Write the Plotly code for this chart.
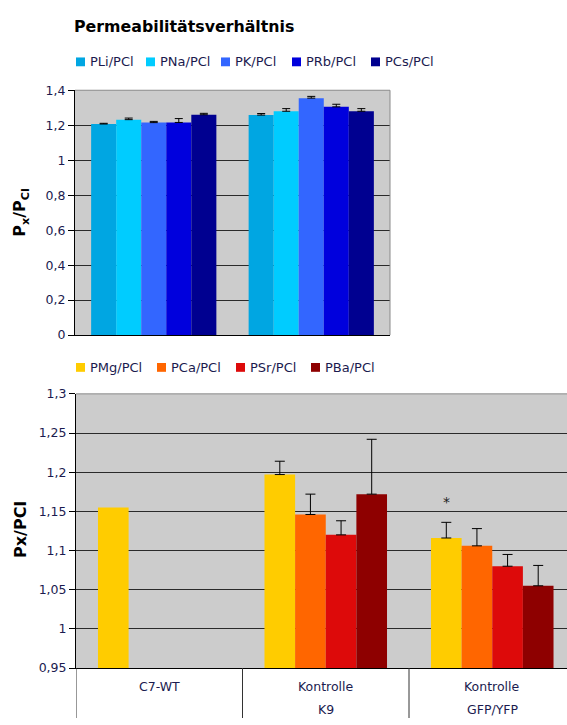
import numpy as np
import plotly.graph_objects as go

# ---------------- data ----------------
top_groups = ["Gruppe 1", "Gruppe 2"]
top_series = ["PLi/PCl", "PNa/PCl", "PK/PCl", "PRb/PCl", "PCs/PCl"]
top_values = [
    [1.207, 1.258],
    [1.232, 1.280],
    [1.215, 1.355],
    [1.216, 1.305],
    [1.260, 1.280],
]
top_errors = [
    [0.004, 0.009],
    [0.009, 0.015],
    [0.007, 0.010],
    [0.022, 0.015],
    [0.008, 0.015],
]
top_colors = ["#00A6E2", "#00CCFF", "#3366FF", "#0000DD", "#000090"]
top_tickvals = [0, 0.2, 0.4, 0.6, 0.8, 1.0, 1.2, 1.4]
top_ticktext = ["0", "0,2", "0,4", "0,6", "0,8", "1", "1,2", "1,4"]

bottom_categories = ["C7-WT", "Kontrolle\nK9", "Kontrolle\nGFP/YFP"]
bottom_series = ["PMg/PCl", "PCa/PCl", "PSr/PCl", "PBa/PCl"]
bottom_values = [
    [1.155, 1.197, 1.116],
    [None, 1.146, 1.106],
    [None, 1.120, 1.080],
    [None, 1.172, 1.055],
]
bottom_errors = [
    [None, 0.017, 0.020],
    [None, 0.026, 0.022],
    [None, 0.018, 0.015],
    [None, 0.070, 0.026],
]
bottom_colors = ["#FFCC00", "#FF6600", "#DD0A0A", "#8E0000"]
bottom_tickvals = [0.95, 1.0, 1.05, 1.1, 1.15, 1.2, 1.25, 1.3]
bottom_ticktext = ["0,95", "1", "1,05", "1,1", "1,15", "1,2", "1,25", "1,3"]

significance = {"category": 2, "series": 0, "y": 1.162, "text": "*"}

title_text = "Permeabilitätsverhältnis"
top_ytitle = "P<sub>x</sub>/P<sub>Cl</sub>"
bottom_ytitle = "Px/PCl"

# ---------------- layout helpers ----------------
W, H = 567, 725
def X(px):
    return px / W
def Y(py):
    return 1 - py / H

TXT = "#1b1b4f"
FONT = "DejaVu Sans"
top_w = 0.159
bot_w = 0.184


def err_arrays(errs):
    plus = np.array([np.nan if e is None else e for e in errs], dtype=float)
    minus = np.where(np.isnan(plus), np.nan, 0.0)
    return plus, minus


fig = go.Figure()

n = len(top_series)
for i, (name, vals, errs, col) in enumerate(zip(top_series, top_values, top_errors, top_colors)):
    plus, minus = err_arrays(errs)
    fig.add_trace(go.Bar(
        x=top_groups, y=vals, name=name, xaxis="x", yaxis="y",
        width=top_w, offset=-n * top_w / 2 + i * top_w,
        marker=dict(color=col, line=dict(width=0)),
        error_y=dict(type="data", array=plus, arrayminus=minus, symmetric=False,
                     color="black", thickness=1, width=4),
        showlegend=False,
    ))

m = len(bottom_series)
for i, (name, vals, errs, col) in enumerate(zip(bottom_series, bottom_values, bottom_errors, bottom_colors)):
    plus, minus = err_arrays(errs)
    fig.add_trace(go.Bar(
        x=bottom_categories, y=vals, name=name, xaxis="x2", yaxis="y2",
        width=bot_w, offset=-m * bot_w / 2 + i * bot_w,
        marker=dict(color=col, line=dict(width=0)),
        error_y=dict(type="data", array=plus, arrayminus=minus, symmetric=False,
                     color="black", thickness=1, width=5),
        showlegend=False,
    ))

shapes = []
annotations = []

# borders (gray top/right)
shapes.append(dict(type="line", xref="x domain", yref="y domain", x0=0, x1=1, y0=1, y1=1,
                   line=dict(color="#8a8a8a", width=1), layer="above"))
shapes.append(dict(type="line", xref="x domain", yref="y domain", x0=1, x1=1, y0=0, y1=1,
                   line=dict(color="#8a8a8a", width=1), layer="above"))
shapes.append(dict(type="line", xref="x2 domain", yref="y2 domain", x0=0, x1=1, y0=1, y1=1,
                   line=dict(color="#8a8a8a", width=1), layer="above"))

# category table lines below bottom chart
bot_domain_y0 = Y(674)
for xv in [-0.5, 0.5, 1.5]:
    shapes.append(dict(type="line", xref="x2", yref="paper", x0=xv, x1=xv, y0=0, y1=bot_domain_y0,
                       line=dict(color="#333333", width=1)))

# category labels
for k, cat in enumerate(bottom_categories):
    lines = cat.split("\n")
    for j, line in enumerate(lines):
        annotations.append(dict(x=k, y=Y(693 + 23 * j), xref="x2", yref="paper", text=line,
                                showarrow=False, xanchor="center", yanchor="middle",
                                font=dict(family=FONT, size=12.5, color=TXT)))

# manual legends
def legend(series, colors, xs, yc):
    for name, col, x0 in zip(series, colors, xs):
        shapes.append(dict(type="rect", xref="paper", yref="paper",
                           x0=X(x0), x1=X(x0 + 9), y0=Y(yc + 4.5), y1=Y(yc - 4.5),
                           fillcolor=col, line=dict(width=0)))
        annotations.append(dict(x=X(x0 + 12), y=Y(yc), xref="paper", yref="paper", text=name,
                                showarrow=False, xanchor="left", yanchor="middle",
                                font=dict(family=FONT, size=13, color=TXT)))

legend(top_series, top_colors, [76, 146, 221, 292, 371], 55)
legend(bottom_series, bottom_colors, [76, 157, 236, 311], 367)

# title
annotations.append(dict(x=X(72), y=Y(19), xref="paper", yref="paper", text="<b>" + title_text + "</b>",
                        showarrow=False, xanchor="left", yanchor="middle",
                        font=dict(family="DejaVu Sans", size=15.8, color="black")))

# y-axis titles
annotations.append(dict(x=X(21), y=Y(209), xref="paper", yref="paper", text="<b>" + top_ytitle + "</b>",
                        showarrow=False, textangle=-90, xanchor="center", yanchor="middle",
                        font=dict(family=FONT, size=16, color="black")))
annotations.append(dict(x=X(21), y=Y(533), xref="paper", yref="paper", text="<b>" + bottom_ytitle + "</b>",
                        showarrow=False, textangle=-90, xanchor="center", yanchor="middle",
                        font=dict(family=FONT, size=16, color="black")))

# significance star
sx = significance["category"] - m * bot_w / 2 + (significance["series"] + 0.5) * bot_w
annotations.append(dict(x=sx, y=significance["y"], xref="x2", yref="y2", text=significance["text"],
                        showarrow=False, xanchor="center", yanchor="middle",
                        font=dict(family=FONT, size=14, color="#222222")))

axis_common = dict(showline=True, linecolor="black", linewidth=1, ticks="outside", ticklen=6,
                   tickcolor="black", tickwidth=1, showgrid=True, gridcolor="#2a2a2a", gridwidth=1,
                   zeroline=False, tickfont=dict(family=FONT, size=12.5, color=TXT))

fig.update_layout(
    width=W, height=H, autosize=False,
    margin=dict(l=0, r=0, t=0, b=0),
    paper_bgcolor="white", plot_bgcolor="#CCCCCC",
    barmode="overlay",
    showlegend=False,
    xaxis=dict(domain=[X(75), X(390)], range=[-0.5, 1.5], type="category",
               showline=True, linecolor="black", linewidth=1, ticks="", showticklabels=False,
               showgrid=False, zeroline=False, anchor="y", fixedrange=True),
    yaxis=dict(domain=[Y(334), Y(84)], range=[0, 1.4], tickvals=top_tickvals, ticktext=top_ticktext,
               anchor="x", **axis_common),
    xaxis2=dict(domain=[X(76), 1.0], range=[-0.5, -0.5 + (W - 76) / 166.5], type="category",
                showline=True, linecolor="black", linewidth=1, ticks="", showticklabels=False,
                showgrid=False, zeroline=False, anchor="y2"),
    yaxis2=dict(domain=[Y(674), Y(394)], range=[0.95, 1.3], tickvals=bottom_tickvals,
                ticktext=bottom_ticktext, anchor="x2", **axis_common),
    shapes=shapes,
    annotations=annotations,
)

fig.write_html("out.html")
